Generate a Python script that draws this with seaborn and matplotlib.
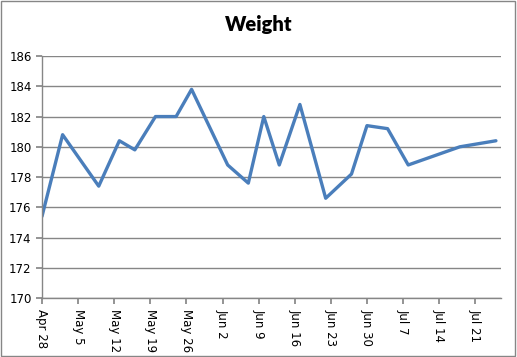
import pandas as pd
import matplotlib
matplotlib.use("Agg")
import matplotlib.pyplot as plt
import seaborn as sns

dates = ["2013-04-28", "2013-05-02", "2013-05-09", "2013-05-13", "2013-05-16",
         "2013-05-20", "2013-05-24", "2013-05-27", "2013-06-03", "2013-06-07",
         "2013-06-10", "2013-06-13", "2013-06-17", "2013-06-22", "2013-06-27",
         "2013-06-30", "2013-07-04", "2013-07-08", "2013-07-18", "2013-07-25"]
weight = [175.4, 180.8, 177.4, 180.4, 179.8,
          182.0, 182.0, 183.8, 178.8, 177.6,
          182.0, 178.8, 182.8, 176.6, 178.2,
          181.4, 181.2, 178.8, 180.0, 180.4]
y_ticks = [170, 172, 174, 176, 178, 180, 182, 184, 186]

df = pd.DataFrame({"date": pd.to_datetime(dates), "weight": weight})

sns.set_theme(style="white")
plt.rcParams["font.family"] = ["DejaVu Sans"]

fig = plt.figure(figsize=(5.17, 3.57), dpi=100)
ax = fig.add_axes([0.0812, 0.165, 0.888, 0.678])

sns.lineplot(data=df, x="date", y="weight", ax=ax, color="#4a7ebb", linewidth=2.4)

ax.set_ylim(170, 186)
ax.set_yticks(y_ticks)
ax.set_xlim(pd.Timestamp("2013-04-28"), pd.Timestamp("2013-07-26"))
ticks = pd.date_range("2013-04-28", "2013-07-21", freq="7D")
ax.set_xticks(ticks)
ax.set_xticklabels([f"{t:%b} {t.day}" for t in ticks], rotation=-90, ha="center", va="top")
ax.set_xlabel("")
ax.set_ylabel("")

ax.yaxis.grid(True, color="#868686", linewidth=1.0)
ax.xaxis.grid(False)
for s in ["top", "right"]:
    ax.spines[s].set_visible(False)
for s in ["left", "bottom"]:
    ax.spines[s].set_color("#868686")
    ax.spines[s].set_linewidth(1.0)
ax.tick_params(axis="both", labelsize=8.5, colors="black", length=4, direction="out")
ax.tick_params(axis="x", color="#868686", bottom=True)
ax.tick_params(axis="y", color="#868686", left=True)
ax.set_axisbelow(True)

fig.text(0.5, 0.93, "Weight", ha="center", va="center", fontsize=14.5, color="black",
         fontweight="heavy", family=["Lato", "DejaVu Sans"])

fig.patches.append(plt.Rectangle((0.002, 0.003), 0.995, 0.994, transform=fig.transFigure,
                                 fill=False, edgecolor="#868686", linewidth=1.0))

fig.savefig("out.png", dpi=100)
